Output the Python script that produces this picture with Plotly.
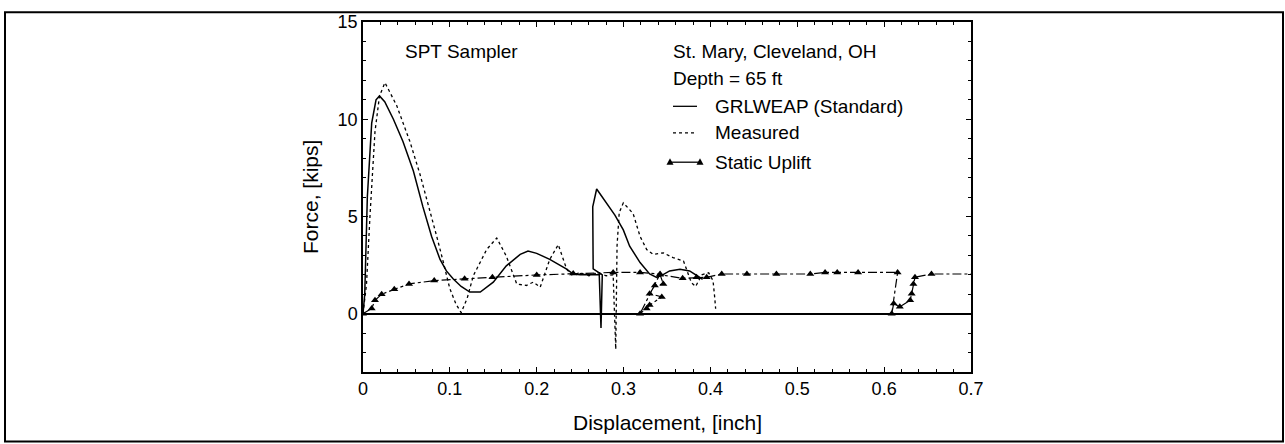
import plotly.graph_objects as go

# ---------------- data ----------------
grl_x = [0, 0.002, 0.005, 0.010, 0.015, 0.019, 0.025, 0.035, 0.046, 0.058, 0.069, 0.079,
         0.0887, 0.096, 0.104, 0.113, 0.123, 0.135, 0.150, 0.165, 0.181, 0.190, 0.200,
         0.215, 0.2345, 0.242, 0.250, 0.262, 0.272, 0.274, 0.2755, 0.265, 0.2645, 0.269,
         0.2806, 0.290, 0.2997, 0.307, 0.319, 0.330, 0.338, 0.345, 0.353, 0.365, 0.376, 0.391]
grl_y = [0, 1.0, 6.0, 9.8, 11.0, 11.2, 10.9, 10.0, 8.85, 7.34, 5.49, 3.97,
         2.79, 2.2, 1.78, 1.4, 1.11, 1.11, 1.62, 2.46, 3.05, 3.22, 3.1,
         2.79, 2.29, 2.04, 2.0, 2.0, 2.0, -0.74, 2.0, 2.3, 5.5, 6.41,
         5.66, 5.07, 4.31, 3.47, 2.63, 2.04, 1.87, 2.0, 2.2, 2.29, 2.2, 1.77]

meas_x = [0, 0.004, 0.008, 0.0138, 0.019, 0.0253, 0.0388, 0.054, 0.0656, 0.077, 0.0849,
          0.0926, 0.100, 0.107, 0.113, 0.120, 0.127, 0.1424, 0.154, 0.165, 0.177, 0.188,
          0.196, 0.204, 0.215, 0.2248, 0.2345, 0.240, 0.250, 0.260, 0.270, 0.280, 0.288,
          0.291, 0.2925, 0.295, 0.2997, 0.311, 0.319, 0.3266, 0.334, 0.3458, 0.357, 0.369,
          0.378, 0.383, 0.390, 0.398, 0.403, 0.405, 0.406]
meas_y = [0, 1.5, 5.0, 9.36, 11.2, 11.88, 10.7, 8.85, 7.17, 5.32, 3.97,
          2.63, 1.28, 0.5, 0.05, 0.8, 1.95, 3.3, 3.89, 2.96, 1.53, 1.45,
          1.62, 1.36, 2.79, 3.55, 2.29, 2.0, 2.1, 1.95, 2.1, 1.95, 2.0,
          -1.83, 3.5, 5.2, 5.7, 5.15, 3.97, 3.3, 3.05, 3.13, 2.88, 2.71,
          1.6, 1.4, 2.0, 2.1, 1.7, 0.8, 0.25]

upl_x = [0, 0.010, 0.0138, 0.0215, 0.036, 0.053, 0.082, 0.117, 0.149, 0.200, 0.242, 0.288,
         0.319, 0.342, 0.319, 0.3266, 0.330, 0.344, 0.330, 0.336, 0.3458, 0.342, 0.368,
         0.384, 0.3957, 0.413, 0.442, 0.476, 0.515, 0.532, 0.546, 0.570, 0.6155, 0.6087,
         0.611, 0.618, 0.630, 0.6317, 0.6337, 0.6355, 0.6545, 0.72]
upl_y = [0, 0.27, 0.69, 1.0, 1.25, 1.53, 1.7, 1.8, 1.87, 1.99, 2.07, 2.12,
         2.12, 2.04, 0.0, 0.27, 0.44, 0.86, 1.03, 1.45, 1.53, 2.0, 1.82,
         1.87, 1.87, 2.04, 2.04, 2.04, 2.04, 2.12, 2.12, 2.12, 2.12, 0.0,
         0.52, 0.35, 0.69, 1.03, 1.53, 1.87, 2.04, 2.04]

x_ticks = [0, 0.1, 0.2, 0.3, 0.4, 0.5, 0.6, 0.7]
x_labels = ["0", "0.1", "0.2", "0.3", "0.4", "0.5", "0.6", "0.7"]
y_ticks = [0, 5, 10, 15]
y_labels = ["0", "5", "10", "15"]

FONT = "Liberation Sans, Arial, Helvetica, sans-serif"

fig = go.Figure()
fig.add_trace(go.Scatter(x=grl_x, y=grl_y, mode="lines", name="GRLWEAP (Standard)",
                         line=dict(color="black", width=1.5)))
fig.add_trace(go.Scatter(x=meas_x, y=meas_y, mode="lines", name="Measured",
                         line=dict(color="black", width=1.3, dash="dot")))
fig.add_trace(go.Scatter(x=upl_x, y=upl_y, mode="lines+markers", name="Static Uplift",
                         line=dict(color="black", width=1.2, dash="dashdot"),
                         marker=dict(symbol="triangle-up", size=7, color="black")))

# ---- layout ----
L, R, T, B = 363, 314, 15, 72
W, H = 1285, 444
pw, ph = W - L - R, H - T - B

def px(xp):
    return (xp - L) / pw

def py(yp):
    return (H - B - yp) / ph

ann = []
def text(s, x, y, size=19, anchor="left"):
    ann.append(dict(text=s, x=px(x), y=py(y), xref="paper", yref="paper",
                    xanchor=anchor, yanchor="middle", showarrow=False,
                    font=dict(family=FONT, size=size, color="black")))

text("SPT Sampler", 403, 45)
text("St. Mary, Cleveland, OH", 671, 45)
text("Depth = 65 ft", 671, 73)
text("GRLWEAP (Standard)", 713, 101)
text("Measured", 713, 128)
text("Static Uplift", 713, 158)

ann.append(dict(text="Force, [kips]", x=px(310), y=0.5, xref="paper", yref="paper",
                xanchor="center", yanchor="middle", textangle=-90, showarrow=False,
                font=dict(family=FONT, size=21, color="black")))
ann.append(dict(text="Displacement, [inch]", x=0.5, y=py(423), xref="paper", yref="paper",
                xanchor="center", yanchor="middle", showarrow=False,
                font=dict(family=FONT, size=21, color="black")))

shapes = [
    # outer frame
    dict(type="rect", xref="paper", yref="paper", x0=px(5), x1=px(1283), y0=py(443), y1=py(5),
         line=dict(color="black", width=2)),
    # legend keys
    dict(type="line", xref="paper", yref="paper", x0=px(673), x1=px(697), y0=py(101), y1=py(101),
         line=dict(color="black", width=1.3)),
    dict(type="line", xref="paper", yref="paper", x0=px(673), x1=px(697), y0=py(128), y1=py(128),
         line=dict(color="black", width=1.3, dash="dot")),
    dict(type="line", xref="paper", yref="paper", x0=px(670), x1=px(700), y0=py(158), y1=py(158),
         line=dict(color="black", width=1.3)),
]
for xx in (670, 700):
    shapes.append(dict(type="path", xref="paper", yref="paper", xsizemode="pixel", ysizemode="pixel",
                       xanchor=px(xx), yanchor=py(158), path="M -3.5 -2.5 L 3.5 -2.5 L 0 4 Z",
                       fillcolor="black", line=dict(color="black", width=0)))

fig.update_layout(
    width=W, height=H, margin=dict(l=L, r=R, t=T, b=B, pad=0),
    paper_bgcolor="white", plot_bgcolor="white", showlegend=False,
    annotations=ann, shapes=shapes,
    font=dict(family=FONT, size=18, color="black"),
)
fig.update_xaxes(range=[0, 0.7], tickvals=x_ticks, ticktext=x_labels, showgrid=False,
                 zeroline=False, showline=True, linecolor="black", linewidth=1.5, mirror="ticks",
                 ticks="inside", ticklen=5, tickcolor="black",
                 minor=dict(dtick=0.02, ticks="inside", ticklen=3, tickcolor="black"),
                 tickfont=dict(size=18))
fig.update_yaxes(range=[-3, 15], tickvals=y_ticks, ticktext=y_labels, showgrid=False,
                 zeroline=True, zerolinecolor="black", zerolinewidth=2,
                 showline=True, linecolor="black", linewidth=1.5, mirror="ticks",
                 ticks="inside", ticklen=5, tickcolor="black",
                 minor=dict(dtick=1, ticks="inside", ticklen=3, tickcolor="black"),
                 tickfont=dict(size=18))

fig.write_html("out.html")
